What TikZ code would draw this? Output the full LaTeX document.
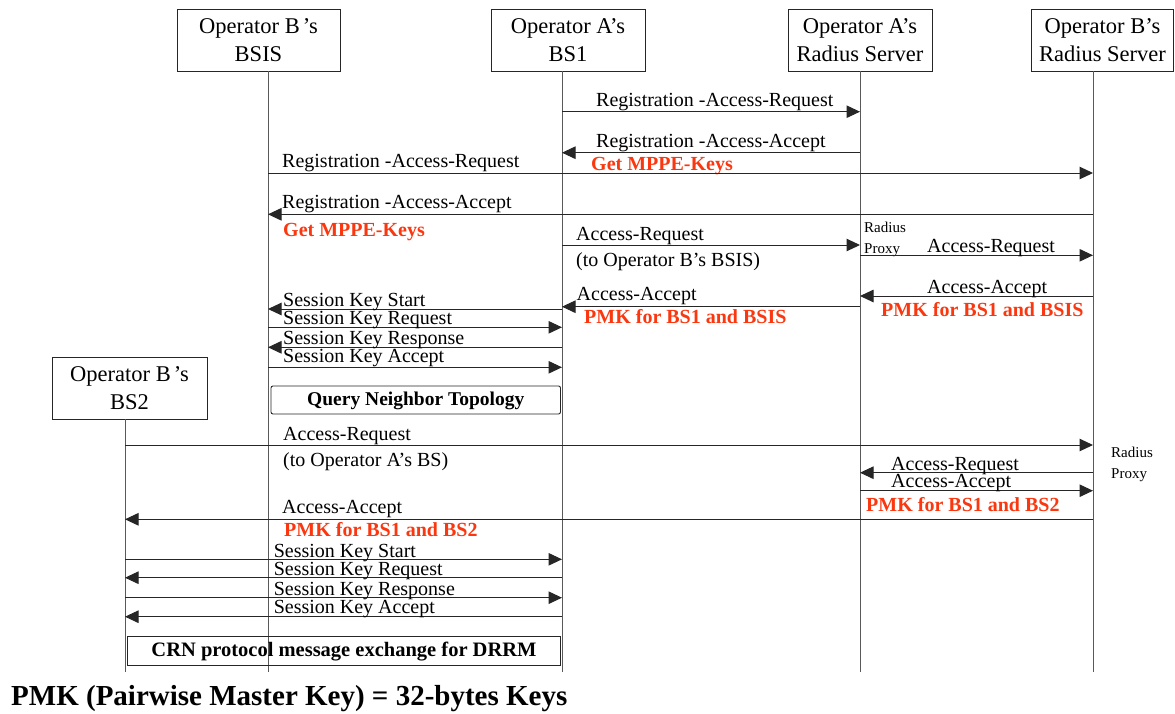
\documentclass[tikz,border=0pt]{standalone}
\usepackage{fontspec}
\setmainfont{Liberation Serif}
\usetikzlibrary{arrows.meta}
\definecolor{pmkred}{RGB}{250,55,15}
\tikzset{
  hdr/.style={draw=black!85, line width=0.9pt, align=center, inner sep=0pt,
    font=\fontsize{22.5}{28}\selectfont, minimum height=62pt},
  life/.style={draw=black!65, line width=0.9pt},
  msg/.style={draw=black!85, line width=1pt, -{Triangle[length=13.5pt,width=12.5pt]}},
  lbl/.style={anchor=base west, inner sep=0pt, font=\fontsize{20}{24}\selectfont},
  pmk/.style={anchor=base west, inner sep=0pt, text=pmkred, font=\fontsize{20}{24}\selectfont\bfseries},
  proxytxt/.style={anchor=base west, inner sep=0pt, font=\fontsize{15}{18}\selectfont},
  groupbox/.style={draw=black!85, line width=0.9pt},
  grouptxt/.style={inner sep=0pt, font=\fontsize{19.5}{23}\selectfont\bfseries}
}
\begin{document}
\begin{tikzpicture}[x=1pt,y=-1pt]
\useasboundingbox (0,0) rectangle (1175,713);

% headers
\node[hdr, minimum width=163pt] (bsis) at (258.5,40) {Operator B\hspace{3pt}’s\\BSIS};
\node[hdr, minimum width=154pt] (bs1) at (568,40) {Operator A’s\\BS1};
\node[hdr, minimum width=144pt] (ra) at (860,40) {Operator A’s\\Radius Server};
\node[hdr, minimum width=142pt] (rb) at (1102.5,40) {Operator B’s\\Radius Server};
\node[hdr, minimum width=155pt] (bs2) at (129.5,388) {Operator B\hspace{3pt}’s\\BS2};

% lifelines
\coordinate (tBSIS) at (268,71);  \coordinate (eBSIS) at (268,672);
\coordinate (tBS1) at (562,71);   \coordinate (eBS1) at (562,672);
\coordinate (tRA) at (860,71);    \coordinate (eRA) at (860,672);
\coordinate (tRB) at (1093,71);   \coordinate (eRB) at (1093,672);
\coordinate (tBS2) at (125,419);  \coordinate (eBS2) at (125,672);
\draw[life] (tBSIS) -- (eBSIS);
\draw[life] (tBS1) -- (eBS1);
\draw[life] (tRA) -- (eRA);
\draw[life] (tRB) -- (eRB);
\draw[life] (tBS2) -- (eBS2);

% 1
\draw[msg] (tBS1 |- 0,111.7) -- (tRA |- 0,111.7);
\node[lbl] (m1) at (596,106.5) {Registration -Access-Request};
% 2
\draw[msg] (tRA |- 0,152.7) -- (tBS1 |- 0,152.7);
\node[lbl] (m2) at (596,147.5) {Registration -Access-Accept};
\node[pmk] (k2) at (591,170) {Get MPPE-Keys};
% 3
\draw[msg] (tBSIS |- 0,173) -- (tRB |- 0,173);
\node[lbl] (m3) at (282,167.5) {Registration -Access-Request};
% 4
\draw[msg] (tRB |- 0,214.3) -- (tBSIS |- 0,214.3);
\node[lbl] (m4) at (282,208) {Registration -Access-Accept};
\node[pmk] (k4) at (283,236.5) {Get MPPE-Keys};
% 5
\draw[msg] (tBS1 |- 0,245) -- (tRA |- 0,245);
\node[lbl] (m5) at (576,240.5) {Access-Request};
\node[lbl] (m5b) at (576,266) {(to Operator B’s BSIS)};
% 6
\node[proxytxt] (p1a) at (864,232) {Radius};
\node[proxytxt] (p1b) at (864,253) {Proxy};
\draw[msg] (tRA |- 0,255.3) -- (tRB |- 0,255.3);
\node[lbl] (m6) at (927,252.5) {Access-Request};
% 7
\draw[msg] (tRB |- 0,296) -- (tRA |- 0,296);
\node[lbl] (m7) at (927,293) {Access-Accept};
\node[pmk] (k7) at (881,316.5) {PMK for BS1 and BSIS};
% 8
\draw[msg] (tRA |- 0,306.7) -- (tBS1 |- 0,306.7);
\node[lbl] (m8) at (576.5,300.5) {Access-Accept};
\node[pmk] (k8) at (584,323) {PMK for BS1 and BSIS};
% 9-12
\draw[msg] (tBS1 |- 0,309) -- (tBSIS |- 0,309);
\node[lbl] (m9) at (283,306.5) {Session Key Start};
\draw[msg] (tBSIS |- 0,327.3) -- (tBS1 |- 0,327.3);
\node[lbl] (m10) at (283,324) {Session Key Request};
\draw[msg] (tBS1 |- 0,347.3) -- (tBSIS |- 0,347.3);
\node[lbl] (m11) at (283,344) {Session Key Response};
\draw[msg] (tBSIS |- 0,367.3) -- (tBS1 |- 0,367.3);
\node[lbl] (m12) at (283,362.7) {Session Key Accept};
% query box
\draw[groupbox, rounded corners=2pt] (271,386) rectangle (560.5,414);
\node[grouptxt] (q) at (415.75,401) {Query Neighbor Topology};
% 14
\draw[msg] (tBS2 |- 0,445) -- (tRB |- 0,445);
\node[lbl] (m14) at (283,440) {Access-Request};
\node[lbl] (m14b) at (283,466) {(to Operator A’s BS)};
\node[proxytxt] (p2a) at (1111,457) {Radius};
\node[proxytxt] (p2b) at (1111,478) {Proxy};
% 15
\draw[msg] (tRB |- 0,472.7) -- (tRA |- 0,472.7);
\node[lbl] (m15) at (891,470.5) {Access-Request};
% 16
\draw[msg] (tRA |- 0,490.7) -- (tRB |- 0,490.7);
\node[lbl] (m16) at (891,487) {Access-Accept};
\node[pmk] (k16) at (866,511.5) {PMK for BS1 and BS2};
% 17
\draw[msg] (tRB |- 0,519.3) -- (tBS2 |- 0,519.3);
\node[lbl] (m17) at (282,513) {Access-Accept};
\node[pmk] (k17) at (284,536) {PMK for BS1 and BS2};
% 18-21
\draw[msg] (tBS2 |- 0,559.3) -- (tBS1 |- 0,559.3);
\node[lbl] (m18) at (273.6,557) {Session Key Start};
\draw[msg] (tBS1 |- 0,577.7) -- (tBS2 |- 0,577.7);
\node[lbl] (m19) at (273.6,575) {Session Key Request};
\draw[msg] (tBS2 |- 0,597.7) -- (tBS1 |- 0,597.7);
\node[lbl] (m20) at (273.6,595) {Session Key Response};
\draw[msg] (tBS1 |- 0,616.7) -- (tBS2 |- 0,616.7);
\node[lbl] (m21) at (273.6,613.3) {Session Key Accept};
% CRN box
\draw[groupbox] (127.4,636.7) rectangle (560.7,665);
\node[grouptxt, font=\fontsize{20.5}{24}\selectfont\bfseries] (crn) at (344,651.5) {CRN protocol message exchange for DRRM};
% footer
\node[anchor=base west, inner sep=0pt, font=\fontsize{29}{34}\selectfont\bfseries] (foot) at (11,705) {PMK (Pairwise Master Key) = 32-bytes Keys};
\end{tikzpicture}
\end{document}
